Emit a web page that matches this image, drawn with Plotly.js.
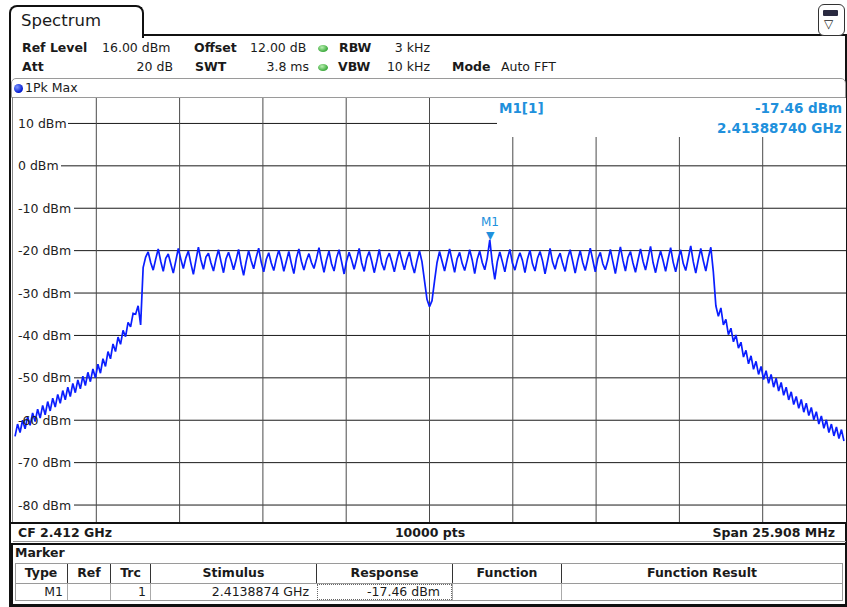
<!DOCTYPE html>
<html><head><meta charset="utf-8">
<script src="https://cdn.plot.ly/plotly-3.0.1.min.js"></script>
<style>
html,body{margin:0;padding:0;background:#fff;}
#page{position:relative;width:847px;height:607px;overflow:hidden;font-family:"DejaVu Sans",Verdana,sans-serif;color:#1a1a1a;}
.t{position:absolute;white-space:nowrap;font-size:12.5px;height:16px;line-height:16px;}
.b{font-weight:bold;}
.c{text-align:center;}
.r{text-align:right;}
.ln{position:absolute;box-sizing:content-box;}
.dot{position:absolute;width:10px;height:7px;border-radius:50%;background:radial-gradient(ellipse at 40% 35%,#b8f0b0,#3aa83a 70%);}
</style></head>
<body><div id="page">
<!-- tab -->
<div class="ln" style="left:9px;top:5px;width:131px;height:31px;border:2px solid #111;border-bottom:none;border-radius:8px 8px 0 0;"></div>
<div class="t" style="left:21px;top:11px;font-size:16.5px;height:20px;line-height:20px;">Spectrum</div>
<div class="ln" style="left:142px;top:34px;width:705px;height:2px;background:#111;"></div>
<div class="ln" style="left:9px;top:35px;width:2px;height:571px;background:#111;"></div>
<div class="ln" style="left:845px;top:35px;width:2px;height:571px;background:#111;"></div>
<div class="ln" style="left:9px;top:604px;width:838px;height:3px;background:#111;"></div>
<!-- icon -->
<div class="ln" style="left:818px;top:4px;width:25px;height:30px;border:1px solid #333;border-radius:6px;background:#fff;"></div>
<div class="ln" style="left:823px;top:10px;width:15px;height:6px;background:#2a2a40;border-radius:1px;"></div>
<div class="t" style="left:824px;top:16px;font-size:12px;">▽</div>
<!-- header rows -->
<div class="t b" style="left:22px;top:40px">Ref Level</div>
<div class="t" style="left:102px;top:40px">16.00 dBm</div>
<div class="t b" style="left:194px;top:40px">Offset</div>
<div class="t" style="left:250px;top:40px">12.00 dB</div>
<div class="dot" style="left:318px;top:45px"></div>
<div class="t b" style="left:339px;top:40px">RBW</div>
<div class="t r" style="right:417px;top:40px">3 kHz</div>
<div class="t b" style="left:22px;top:59px">Att</div>
<div class="t r" style="right:674px;top:59px">20 dB</div>
<div class="t b" style="left:195px;top:59px">SWT</div>
<div class="t r" style="right:538px;top:59px">3.8 ms</div>
<div class="dot" style="left:318px;top:64px"></div>
<div class="t b" style="left:338px;top:59px">VBW</div>
<div class="t r" style="right:417px;top:59px">10 kHz</div>
<div class="t b" style="left:452px;top:59px">Mode</div>
<div class="t" style="left:501px;top:59px">Auto FFT</div>
<!-- trace bar -->
<div class="ln" style="left:11px;top:78px;width:833px;height:18px;border:1px solid #9a9a9a;border-radius:5px 5px 0 0;"></div>
<div class="ln" style="left:14px;top:84px;width:9px;height:9px;border-radius:50%;background:radial-gradient(circle at 35% 35%,#7d96ff,#0018d0 70%);"></div>
<div class="t" style="left:25px;top:80px">1Pk Max</div>
<!-- plot -->
<div id="plot" style="position:absolute;left:13px;top:98px;width:833px;height:424px;"></div>
<div class="ln" style="left:12px;top:97px;width:1px;height:425px;background:#8a8a8a;"></div>
<div class="ln" style="left:11px;top:522px;width:835px;height:2px;background:#111;"></div>
<!-- CF row -->
<div class="t b" id="cfText" style="left:18px;top:525px"></div>
<div class="t b c" id="ptsText" style="left:360px;width:140px;top:525px"></div>
<div class="t b r" id="spanText" style="right:12px;top:525px"></div>
<div class="ln" style="left:13px;top:541px;width:833px;height:1px;background:#9a9a9a;"></div>
<!-- marker panel -->
<div class="ln" style="left:11px;top:543px;width:834px;height:2px;background:#111;border-radius:5px 0 0 0;"></div>
<div class="ln" style="left:11px;top:543px;width:2px;height:62px;background:#111;"></div>
<div class="t b" style="left:15px;top:545px">Marker</div>
<div class="ln" style="left:15px;top:563px;width:828px;height:1px;background:#9a9a9a;"></div>
<div class="ln" style="left:15px;top:583px;width:828px;height:1px;background:#9a9a9a;"></div>
<div class="ln" style="left:15px;top:600px;width:828px;height:1px;background:#9a9a9a;"></div>
<div class="ln" style="left:15px;top:563px;width:1px;height:37px;background:#9a9a9a;"></div>
<div class="ln" style="left:842px;top:563px;width:1px;height:37px;background:#9a9a9a;"></div>
<div class="ln" style="left:67px;top:564px;width:1px;height:19px;background:#333;"></div>
<div class="ln" style="left:110px;top:564px;width:1px;height:19px;background:#333;"></div>
<div class="ln" style="left:150px;top:564px;width:1px;height:19px;background:#333;"></div>
<div class="ln" style="left:316px;top:564px;width:1px;height:19px;background:#333;"></div>
<div class="ln" style="left:452px;top:564px;width:1px;height:19px;background:#333;"></div>
<div class="ln" style="left:561px;top:564px;width:1px;height:19px;background:#333;"></div>
<div class="ln" style="left:67px;top:584px;width:1px;height:16px;background:#aaa;"></div>
<div class="ln" style="left:110px;top:584px;width:1px;height:16px;background:#aaa;"></div>
<div class="ln" style="left:150px;top:584px;width:1px;height:16px;background:#aaa;"></div>
<div class="ln" style="left:452px;top:584px;width:1px;height:16px;background:#aaa;"></div>
<div class="ln" style="left:561px;top:584px;width:1px;height:16px;background:#aaa;"></div>
<div class="ln" style="left:317px;top:584px;width:133px;height:14px;border:1px dotted #666;"></div>
<div class="t b c" style="left:15px;width:52px;top:565px">Type</div>
<div class="t b c" style="left:68px;width:42px;top:565px">Ref</div>
<div class="t b c" style="left:111px;width:39px;top:565px">Trc</div>
<div class="t b c" style="left:151px;width:165px;top:565px">Stimulus</div>
<div class="t b c" style="left:317px;width:135px;top:565px">Response</div>
<div class="t b c" style="left:453px;width:108px;top:565px">Function</div>
<div class="t b c" style="left:562px;width:280px;top:565px">Function Result</div>
<div class="t r" style="right:784px;top:584px">M1</div>
<div class="t r" style="right:701px;top:584px">1</div>
<div class="t r" id="stimText" style="right:538px;top:584px"></div>
<div class="t r" id="respText" style="right:407px;top:584px"></div>
</div>
<script>
// ---- instrument settings ----
const centerFreqGHz = 2.412;
const spanMHz = 25.908;
const sweepPoints = 10000;
const refLevel = 16;
const bottomLevel = -84;
// ---- trace samples, uniform frequency grid ----
const traceStartGHz = 2.399109375;
const traceStepGHz = 0.000078125;
const leftSkirt = [
 -63.8,-60.9,-62.9,-60.0,-62.0,-59.2,-61.2,-58.3,-60.3,-57.4,
 -59.5,-56.5,-58.7,-55.6,-57.8,-54.8,-56.9,-53.9,-56.0,-53.0,
 -55.2,-52.2,-54.4,-51.3,-53.5,-50.5,-52.6,-49.6,-51.8,-48.7,
 -50.9,-47.9,-50.0,-46.8,-48.9,-45.5,-47.3,-43.8,-45.5,-42.0,
 -43.8,-40.4,-42.1,-38.8,-40.3,-36.9,-38.0,-34.8,-35.0,-33.0,
 -37.5
];
const band = [
 -24.0,-21.5,
 -20.3,-22.8,-24.6,-22.0,
 -19.6,-22.5,-24.9,-21.8,
 -20.8,-23.1,-25.3,-22.4,
 -19.5,-22.0,-24.2,-21.7,
 -20.1,-23.0,-25.6,-22.3,
 -19.2,-22.2,-24.4,-21.5,
 -20.6,-22.9,-24.8,-22.0,
 -19.8,-22.6,-25.2,-21.9,
 -20.4,-22.3,-24.5,-22.2,
 -19.7,-23.2,-25.8,-22.6,
 -20.0,-22.4,-24.3,-21.6,
 -19.4,-22.7,-25.0,-22.1,
 -20.5,-22.9,-24.7,-22.0,
 -19.9,-22.1,-24.9,-22.5,
 -20.2,-23.0,-25.4,-21.8,
 -19.6,-22.5,-24.6,-22.3,
 -20.7,-22.8,-24.2,-21.9,
 -19.3,-22.4,-25.1,-22.2,
 -20.1,-23.1,-24.8,-21.7,
 -19.8,-22.6,-25.5,-22.4,
 -20.4,-22.2,-24.4,-22.0,
 -19.5,-22.9,-24.9,-21.8,
 -20.2,-22.5,-25.2,-22.6,
 -19.7,-23.0,-24.6,-21.9,
 -20.6,-22.7,-25.0,-22.2,
 -19.9,-22.3,-24.5,-22.0,
 -20.3,-23.2,-25.3,-22.4,
 -20.0,-22.6,-27.0,-31.5,
 -33.2,-31.8,-27.2,-22.8,
 -20.2,-22.7,-24.8,-22.1,
 -19.6,-22.4,-25.1,-21.9,
 -20.4,-23.0,-24.7,-22.3,
 -19.8,-22.2,-25.4,-22.0,
 -20.1,-22.8,-24.5,-21.7,
 -17.46,-22.9,-26.8,-22.6,
 -20.3,-22.6,-25.0,-21.9,
 -19.7,-22.9,-24.6,-22.2,
 -20.5,-22.3,-25.2,-22.0,
 -19.9,-23.1,-24.8,-21.8,
 -20.2,-22.4,-25.5,-22.5,
 -19.5,-22.7,-24.4,-22.0,
 -20.6,-23.0,-24.9,-21.7,
 -19.8,-22.5,-25.3,-22.3,
 -20.0,-22.8,-24.7,-22.1,
 -19.4,-22.2,-25.0,-21.9,
 -20.4,-23.1,-24.5,-22.4,
 -19.7,-22.6,-25.4,-22.0,
 -19.1,-22.3,-24.8,-21.6,
 -20.2,-22.9,-25.1,-22.2,
 -19.6,-22.5,-24.6,-21.8,
 -19.0,-22.8,-25.2,-22.3,
 -20.1,-22.4,-24.9,-21.9,
 -19.3,-22.7,-25.0,-22.1,
 -19.8,-23.0,-24.7,-21.8,
 -18.9,-22.6,-25.3,-22.2,
 -19.5,-22.4,-24.8,-21.7,
 -19.2,-25.0
];
const rightSkirt = [
 -33.0,-35.5,-33.5,-37.5,-36.2,-39.8,-38.3,-41.5,-39.9,-43.0,
 -41.6,-45.1,-43.5,-46.7,-44.8,-48.0,-46.1,-49.2,-47.3,-50.4,
 -48.3,-51.3,-49.2,-52.2,-50.1,-53.1,-51.1,-54.1,-52.2,-55.2,
 -53.3,-56.3,-54.4,-57.2,-55.1,-58.1,-56.0,-58.9,-57.0,-59.9,
 -58.0,-60.9,-59.0,-61.9,-59.9,-62.9,-60.9,-63.7,-61.6,-64.3,
 -62.2,-64.9
];
// ---- axis labels ----
const levelTicks  = [10, 0, -10, -20, -30, -40, -50, -60, -70, -80];
const levelLabels = ['10 dBm','0 dBm','-10 dBm','-20 dBm','-30 dBm','-40 dBm','-50 dBm','-60 dBm','-70 dBm','-80 dBm'];
const labelEndPx  = [55, 48, 61, 61, 61, 61, 61, 61, 61, 61];
// ---- marker ----
const markerName = 'M1';
const markerFreqGHz = 2.4138874;
const markerLevel = -17.46;

const W = 833, H = 424;
const boxLeftPx = 484, boxBottomPx = 39;
const fStart = centerFreqGHz - spanMHz / 2000;
const fStop  = centerFreqGHz + spanMHz / 2000;
const gridF = [];
for (let n = -4; n <= 4; n++) gridF.push(centerFreqGHz + n * spanMHz / 10000);

document.getElementById('cfText').textContent = 'CF ' + centerFreqGHz + ' GHz';
document.getElementById('ptsText').textContent = sweepPoints + ' pts';
document.getElementById('spanText').textContent = 'Span ' + spanMHz.toFixed(3) + ' MHz';
document.getElementById('stimText').textContent = markerFreqGHz.toFixed(7) + ' GHz';
document.getElementById('respText').textContent = markerLevel.toFixed(2) + ' dBm';

const F = 'DejaVu Sans, Verdana, sans-serif';
const mkColor = '#2090dc';
const shapes = [];
const annotations = [];
// horizontal level grid (starts after each label; stops at the marker readout box)
levelTicks.forEach((v, i) => {
  const yPx = (refLevel - v) / (refLevel - bottomLevel) * H;
  const xEnd = yPx < boxBottomPx ? boxLeftPx / W : 1;
  shapes.push({type:'line', layer:'below', xref:'paper', yref:'y', x0:labelEndPx[i] / W, x1:xEnd,
    y0:v, y1:v, line:{color:'#1a1a1a', width:1}});
  annotations.push({xref:'paper', yref:'y', x:0, y:v, xanchor:'left', yanchor:'middle', xshift:4,
    text:levelLabels[i], showarrow:false, borderpad:0, font:{family:F, size:12.5, color:'#222'}});
});
// vertical frequency grid
gridF.forEach(f => {
  const xPx = (f - fStart) / (fStop - fStart) * W;
  const yTop = xPx > boxLeftPx ? 1 - boxBottomPx / H : 1;
  shapes.push({type:'line', layer:'below', xref:'x', yref:'paper', x0:f, x1:f, y0:0, y1:yTop,
    line:{color:'#4a4a4a', width:1}});
});
// marker readout
annotations.push({xref:'paper', yref:'paper', x:485 / W, y:1 - 10 / H, xanchor:'left', yanchor:'middle',
  text:'<b>' + markerName + '[1]</b>', showarrow:false, borderpad:0, font:{family:F, size:13.5, color:mkColor}});
annotations.push({xref:'paper', yref:'paper', x:1, y:1 - 10 / H, xanchor:'right', yanchor:'middle', xshift:-3,
  text:'<b>' + markerLevel.toFixed(2) + ' dBm</b>', showarrow:false, borderpad:0, font:{family:F, size:13.5, color:mkColor}});
annotations.push({xref:'paper', yref:'paper', x:1, y:1 - 30 / H, xanchor:'right', yanchor:'middle', xshift:-3,
  text:'<b>' + markerFreqGHz.toFixed(8) + ' GHz</b>', showarrow:false, borderpad:0, font:{family:F, size:13.5, color:mkColor}});
// marker symbol on trace
annotations.push({xref:'x', yref:'y', x:markerFreqGHz, y:markerLevel, xanchor:'center', yanchor:'bottom', yshift:-3,
  text:'▼', showarrow:false, borderpad:0, font:{family:F, size:11, color:mkColor}});
annotations.push({xref:'x', yref:'y', x:markerFreqGHz, y:markerLevel, xanchor:'center', yanchor:'bottom', yshift:10,
  text:markerName, showarrow:false, borderpad:0, font:{family:F, size:12, color:mkColor}});

const trace = {
  type:'scatter', mode:'lines',
  x0:traceStartGHz, dx:traceStepGHz,
  y:leftSkirt.concat(band, rightSkirt),
  line:{color:'#0a1eff', width:1.7},
  hoverinfo:'skip'
};
const layout = {
  width:W, height:H, margin:{l:0, r:0, t:0, b:0},
  paper_bgcolor:'rgba(0,0,0,0)', plot_bgcolor:'#ffffff',
  showlegend:false,
  xaxis:{range:[fStart, fStop], showticklabels:false, ticks:'', showgrid:false,
    zeroline:false, showline:false, fixedrange:true},
  yaxis:{range:[bottomLevel, refLevel], showticklabels:false, ticks:'', showgrid:false,
    zeroline:false, showline:false, fixedrange:true},
  shapes:shapes, annotations:annotations
};
Plotly.newPlot('plot', [trace], layout, {staticPlot:true, displayModeBar:false});
</script>
</body></html>
